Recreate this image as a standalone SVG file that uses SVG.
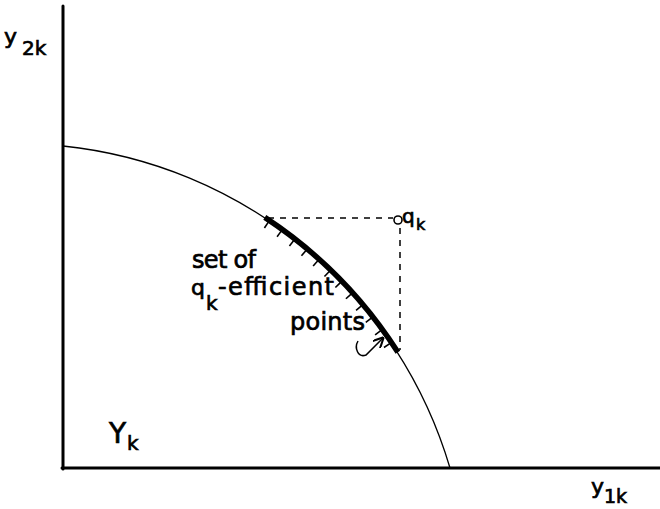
<svg xmlns="http://www.w3.org/2000/svg" width="660" height="509" viewBox="0 0 660 509">
<style>
.ax{stroke:#000;stroke-width:3;fill:none;stroke-linecap:round}
.crv{stroke:#000;stroke-width:1.3;fill:none}
.thk{stroke:#000;stroke-width:5.5;fill:none}
.tk{stroke:#000;stroke-width:1.6}
.ds{stroke:#000;stroke-width:1.5;stroke-dasharray:6 6;fill:none}
.t{font-family:"DejaVu Sans",sans-serif;fill:#000;stroke:#000;stroke-width:0.7}
</style>
<defs>
<marker id="ah" viewBox="0 0 10 10" refX="9" refY="5" markerWidth="7" markerHeight="7" orient="auto">
<path d="M0 0 L10 5 L0 10" fill="none" stroke="#000" stroke-width="2"/>
</marker>
</defs>
<g id="axes">
<line class="ax" x1="63" y1="6" x2="63" y2="469"/>
<line class="ax" x1="62" y1="468" x2="660" y2="468"/>
</g>
<g id="frontier">
<path class="crv" d="M63 146 A452 452 0 0 1 450 468"/>
</g>
<g id="efficient-set">
<path class="thk" d="M264.8 217.4 A452 452 0 0 1 397.9 352.3"/>
<g transform="translate(16.7 595.2)">
<line class="tk" x1="443" x2="450" transform="rotate(-56)"/>
<line class="tk" x1="443" x2="450" transform="rotate(-54)"/>
<line class="tk" x1="443" x2="450" transform="rotate(-52)"/>
<line class="tk" x1="443" x2="450" transform="rotate(-50)"/>
<line class="tk" x1="443" x2="450" transform="rotate(-48)"/>
<line class="tk" x1="443" x2="450" transform="rotate(-46)"/>
<line class="tk" x1="443" x2="450" transform="rotate(-44)"/>
<line class="tk" x1="443" x2="450" transform="rotate(-42)"/>
<line class="tk" x1="443" x2="450" transform="rotate(-40)"/>
<line class="tk" x1="443" x2="450" transform="rotate(-38)"/>
<line class="tk" x1="443" x2="450" transform="rotate(-36)"/>
<line class="tk" x1="443" x2="450" transform="rotate(-34)"/>
</g>
</g>
<g id="connectors">
<line class="ds" x1="268" y1="218" x2="393" y2="218"/>
<line class="ds" x1="400" y1="228" x2="400" y2="350"/>
<path d="M358 341 C354 348 358 358 366 355 L383 338" fill="none" stroke="#000" stroke-width="1.5" marker-end="url(#ah)"/>
</g>
<g id="point-q">
<circle cx="398" cy="220" r="4" fill="#fff" stroke="#000" stroke-width="1.6"/>
<text class="t" x="402" y="223" font-size="20">q</text>
<text class="t" x="416" y="230" font-size="16">k</text>
</g>
<g id="label-set">
<text class="t" x="192" y="268" font-size="24" textLength="64">set of</text>
<text class="t" x="191" y="295" font-size="22">q</text>
<text class="t" x="206" y="310" font-size="20">k</text>
<text class="t" x="218" y="295" font-size="24" textLength="116">-efficient</text>
<text class="t" x="290" y="330" font-size="24" textLength="75">points</text>
</g>
<g id="label-Yk">
<text class="t" x="109" y="443" font-size="28">Y</text>
<text class="t" x="127" y="450" font-size="20">k</text>
</g>
<g id="label-y2k">
<text class="t" x="4" y="44" font-size="22">y</text>
<text class="t" x="22" y="55" font-size="20">2k</text>
</g>
<g id="label-y1k">
<text class="t" x="591" y="494" font-size="22">y</text>
<text class="t" x="604" y="503" font-size="19">1k</text>
</g>
</svg>
